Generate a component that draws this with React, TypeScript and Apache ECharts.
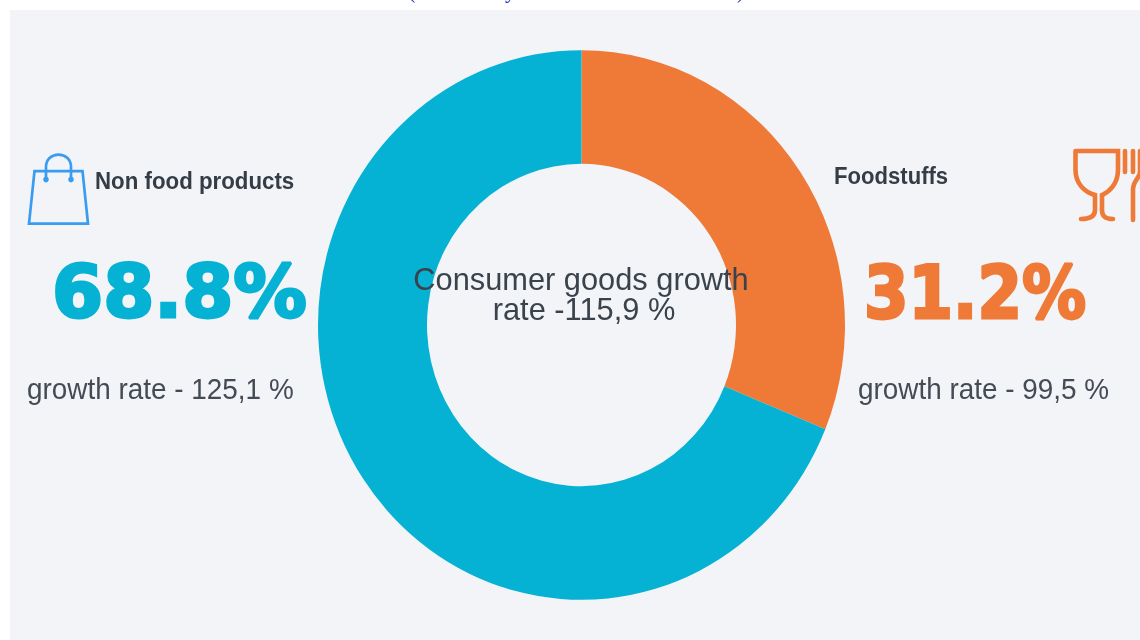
import React, { useEffect, useRef } from "react";
import * as echarts from "echarts";

const categories = ["Foodstuffs", "Non food products"];
const shares = [31.2, 68.8];
const colors = ["#ef7a37", "#05b2d4"];
const centerLines = ["Consumer goods growth", "rate -115,9 %"];
const leftBig = "68.8%";
const rightBig = "31.2%";
const leftRate = "growth rate - 125,1 %";
const rightRate = "growth rate - 99,5 %";

const S = 1.043;
const Y = (y: number) => y / S;

echarts.graphic.registerShape("bagIcon", echarts.graphic.extendPath(
  "M34.5 171H82.5L88 223.5H29ZM46 179V167C46 159 52 154.5 58.5 154.5C65 154.5 71 159 71 167V179", {}));
echarts.graphic.registerShape("foodIcon", echarts.graphic.extendPath(
  "M1075.5 151H1118V170C1118 184 1109 192 1102 195V210C1102 216 1105 219 1113 219M1075.5 151V170C1075.5 184 1085 192 1095 195V210C1095 216 1090 219 1081 219M1125 151V172M1133 151V172M1140 151V172C1140 178 1133 180 1133 190V220", {}));

const texts = (x: number, y: number, text: string, fontSize: number, fill: string, fontWeight: any = 400, fontFamily = "Liberation Sans", align = "left", scaleX = 1, stroke = 0) => ({
  type: "text", z: 20, x, y: Y(y), scaleX, style: { text, fontSize, fill, fontWeight, fontFamily, align, verticalAlign: "middle", stroke: stroke ? fill : undefined, lineWidth: stroke, lineJoin: "round" },
});

export default function App() {
  const ref = useRef<HTMLDivElement>(null);
  useEffect(() => {
    document.body.style.margin = "0";
    document.body.style.overflow = "hidden";
    document.body.style.background = "#fff";
    const chart = echarts.init(ref.current!, null, { renderer: "svg" });
    chart.setOption({
      animation: false,
      graphic: [
        { type: "rect", z: -10, shape: { x: 10, y: Y(10), width: 1130, height: 640 }, style: { fill: "#f2f4f8" } },
        { type: "bagIcon", scaleY: 1 / S, style: { fill: "none", stroke: "#3a9cf0", lineWidth: 2.7 } },
        { type: "circle", shape: { cx: 46, cy: Y(179.5), r: 2.8 }, style: { fill: "#3a9cf0" } },
        { type: "circle", shape: { cx: 71, cy: Y(179.5), r: 2.8 }, style: { fill: "#3a9cf0" } },
        { type: "foodIcon", scaleY: 1 / S, style: { fill: "none", stroke: colors[0], lineWidth: 4.6, lineCap: "round" } },
        texts(95, 181, categories[1], 22.3, "#343d46", 700),
        texts(834, 176.5, categories[0], 22.1, "#343d46", 700),
        texts(52, 292, leftBig, 70, colors[1], 700, "DejaVu Sans", "left", 1.05, 2.8),
        texts(864, 292, rightBig, 70, colors[0], 700, "DejaVu Sans", "left", 0.915, 2.8),
        texts(27, 389, leftRate, 27.9, "#444b54"),
        texts(858, 389, rightRate, 27.9, "#444b54"),
        texts(581, 279, centerLines[0], 30.8, "#3a424b", 400, "Liberation Sans", "center"),
        texts(584, 309, centerLines[1], 30.8, "#3a424b", 400, "Liberation Sans", "center"),
        { type: "text", x: 408, y: -20, style: { text: "(", fontSize: 22, fill: "#2233bb", fontFamily: "Liberation Serif" } },
        { type: "text", x: 505, y: -20, style: { text: "y", fontSize: 22, fill: "#2233bb", fontFamily: "Liberation Serif" } },
        { type: "text", x: 737, y: -20, style: { text: ")", fontSize: 22, fill: "#2233bb", fontFamily: "Liberation Serif" } },
      ],
      series: [{
        type: "pie",
        center: [581.5, Y(325)],
        radius: [154.5, 263.5],
        startAngle: 90,
        clockwise: true,
        label: { show: false },
        labelLine: { show: false },
        silent: true,
        data: categories.map((name, i) => ({ name, value: shares[i], itemStyle: { color: colors[i] } })),
      }],
    });
    return () => chart.dispose();
  }, []);
  return (
    <div
      ref={ref}
      style={{ position: "fixed", left: 0, top: 0, width: 1140, height: 640 / S, transform: `scaleY(${S})`, transformOrigin: "0 0" }}
    />
  );
}
